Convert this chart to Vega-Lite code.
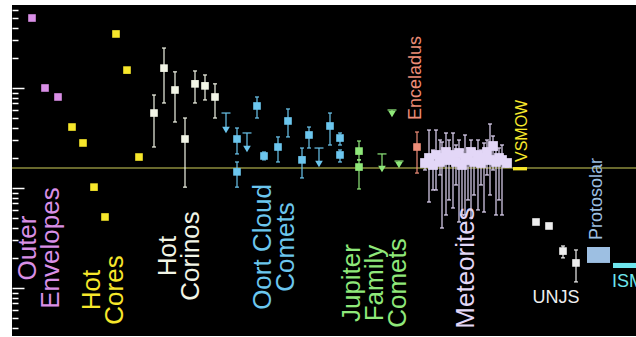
{
  "$schema": "https://vega.github.io/schema/vega-lite/v6.json",
  "width": 624,
  "height": 331,
  "autosize": {"type": "none"},
  "padding": {"left": 12, "top": 5, "right": 0, "bottom": 1},
  "background": "white",
  "config": {"view": {"fill": "black", "stroke": null}, "font": "Liberation Sans"},
  "resolve": {"axis": {"y": "independent"}},
  "datasets": {
    "pts": [
      {"g": "Outer Envelopes", "kind": "val", "x": 32, "v": 5.01e-3},
      {"g": "Outer Envelopes", "kind": "val", "x": 45, "v": 1.0e-3},
      {"g": "Outer Envelopes", "kind": "val", "x": 58, "v": 8.13e-4},
      {"g": "Hot Cores", "kind": "val", "x": 116, "v": 3.47e-3},
      {"g": "Hot Cores", "kind": "val", "x": 127, "v": 1.51e-3},
      {"g": "Hot Cores", "kind": "val", "x": 72, "v": 4.07e-4},
      {"g": "Hot Cores", "kind": "val", "x": 83, "v": 2.82e-4},
      {"g": "Hot Cores", "kind": "val", "x": 139, "v": 2.04e-4},
      {"g": "Hot Cores", "kind": "val", "x": 94, "v": 1.02e-4},
      {"g": "Hot Cores", "kind": "val", "x": 105, "v": 5.13e-5},
      {"g": "Hot Corinos", "kind": "val", "x": 154, "v": 5.62e-4, "lo": 2.57e-4, "hi": 8.51e-4},
      {"g": "Hot Corinos", "kind": "val", "x": 164, "v": 1.58e-3, "lo": 7.08e-4, "hi": 2.51e-3},
      {"g": "Hot Corinos", "kind": "val", "x": 175, "v": 9.55e-4, "lo": 4.57e-4, "hi": 1.45e-3},
      {"g": "Hot Corinos", "kind": "val", "x": 185, "v": 3.09e-4, "lo": 1.02e-4, "hi": 5.01e-4},
      {"g": "Hot Corinos", "kind": "val", "x": 195, "v": 1.10e-3, "lo": 7.08e-4, "hi": 1.48e-3},
      {"g": "Hot Corinos", "kind": "val", "x": 205, "v": 1.05e-3, "lo": 7.59e-4, "hi": 1.35e-3},
      {"g": "Hot Corinos", "kind": "val", "x": 215, "v": 8.13e-4, "lo": 5.01e-4, "hi": 1.10e-3},
      {"g": "Oort Cloud Comets", "kind": "lim", "x": 226, "v": 3.80e-4, "lo": 3.80e-4, "hi": 5.62e-4},
      {"g": "Oort Cloud Comets", "kind": "val", "x": 237, "v": 3.09e-4, "lo": 2.19e-4, "hi": 3.98e-4},
      {"g": "Oort Cloud Comets", "kind": "val", "x": 237, "v": 1.45e-4, "lo": 1.02e-4, "hi": 1.82e-4},
      {"g": "Oort Cloud Comets", "kind": "lim", "x": 247, "v": 2.45e-4, "lo": 2.45e-4, "hi": 3.55e-4},
      {"g": "Oort Cloud Comets", "kind": "val", "x": 257, "v": 6.61e-4, "lo": 5.01e-4, "hi": 8.13e-4},
      {"g": "Oort Cloud Comets", "kind": "val", "x": 264, "v": 2.09e-4, "lo": 1.91e-4, "hi": 2.29e-4},
      {"g": "Oort Cloud Comets", "kind": "val", "x": 278, "v": 2.57e-4, "lo": 1.82e-4, "hi": 3.24e-4},
      {"g": "Oort Cloud Comets", "kind": "val", "x": 288, "v": 4.68e-4, "lo": 3.24e-4, "hi": 6.17e-4},
      {"g": "Oort Cloud Comets", "kind": "val", "x": 302, "v": 1.91e-4, "lo": 1.26e-4, "hi": 2.51e-4},
      {"g": "Oort Cloud Comets", "kind": "val", "x": 309, "v": 3.39e-4, "lo": 2.51e-4, "hi": 4.07e-4},
      {"g": "Oort Cloud Comets", "kind": "lim", "x": 319, "v": 1.74e-4, "lo": 1.74e-4, "hi": 2.51e-4},
      {"g": "Oort Cloud Comets", "kind": "val", "x": 330, "v": 4.17e-4, "lo": 2.69e-4, "hi": 5.62e-4},
      {"g": "Oort Cloud Comets", "kind": "val", "x": 340, "v": 3.16e-4, "lo": 2.69e-4, "hi": 3.55e-4},
      {"g": "Oort Cloud Comets", "kind": "val", "x": 340, "v": 2.14e-4, "lo": 1.82e-4, "hi": 2.40e-4},
      {"g": "Jupiter Family Comets", "kind": "val", "x": 359, "v": 2.34e-4, "lo": 1.91e-4, "hi": 2.95e-4},
      {"g": "Jupiter Family Comets", "kind": "val", "x": 359, "v": 1.62e-4, "lo": 9.77e-5, "hi": 1.91e-4},
      {"g": "Jupiter Family Comets", "kind": "lim", "x": 382, "v": 1.55e-4, "lo": 1.55e-4, "hi": 2.19e-4},
      {"g": "Jupiter Family Comets", "kind": "lim", "x": 392, "v": 5.50e-4, "lo": 5.50e-4, "hi": 6.03e-4},
      {"g": "Jupiter Family Comets", "kind": "lim", "x": 399, "v": 1.70e-4, "lo": 1.70e-4, "hi": 1.86e-4},
      {"g": "Enceladus", "kind": "val", "x": 417, "v": 2.57e-4, "lo": 1.41e-4, "hi": 3.63e-4},
      {"g": "Meteorites", "kind": "val", "x": 425, "v": 1.778e-4, "lo": 1.514e-4, "hi": 1.905e-4},
      {"g": "Meteorites", "kind": "val", "x": 429, "v": 1.995e-4, "lo": 0.724e-4, "hi": 3.80e-4},
      {"g": "Meteorites", "kind": "val", "x": 433, "v": 1.698e-4, "lo": 0.955e-4, "hi": 2.399e-4},
      {"g": "Meteorites", "kind": "val", "x": 436, "v": 2.138e-4, "lo": 0.955e-4, "hi": 3.80e-4},
      {"g": "Meteorites", "kind": "val", "x": 440, "v": 1.820e-4, "lo": 1.349e-4, "hi": 3.02e-4},
      {"g": "Meteorites", "kind": "val", "x": 442, "v": 1.995e-4, "lo": 0.398e-4, "hi": 2.884e-4},
      {"g": "Meteorites", "kind": "val", "x": 446, "v": 2.291e-4, "lo": 0.537e-4, "hi": 3.548e-4},
      {"g": "Meteorites", "kind": "val", "x": 449, "v": 1.905e-4, "lo": 0.759e-4, "hi": 3.02e-4},
      {"g": "Meteorites", "kind": "val", "x": 453, "v": 2.138e-4, "lo": 0.631e-4, "hi": 3.548e-4},
      {"g": "Meteorites", "kind": "val", "x": 456, "v": 1.820e-4, "lo": 1.072e-4, "hi": 2.692e-4},
      {"g": "Meteorites", "kind": "val", "x": 459, "v": 2.239e-4, "lo": 0.457e-4, "hi": 3.02e-4},
      {"g": "Meteorites", "kind": "val", "x": 462, "v": 1.698e-4, "lo": 0.537e-4, "hi": 2.399e-4},
      {"g": "Meteorites", "kind": "val", "x": 465, "v": 1.995e-4, "lo": 0.537e-4, "hi": 3.388e-4},
      {"g": "Meteorites", "kind": "val", "x": 468, "v": 1.905e-4, "lo": 0.759e-4, "hi": 2.512e-4},
      {"g": "Meteorites", "kind": "val", "x": 471, "v": 2.291e-4, "lo": 0.501e-4, "hi": 3.02e-4},
      {"g": "Meteorites", "kind": "val", "x": 474, "v": 1.820e-4, "lo": 0.851e-4, "hi": 2.399e-4},
      {"g": "Meteorites", "kind": "val", "x": 478, "v": 2.138e-4, "lo": 0.603e-4, "hi": 3.02e-4},
      {"g": "Meteorites", "kind": "val", "x": 481, "v": 1.778e-4, "lo": 1.072e-4, "hi": 2.399e-4},
      {"g": "Meteorites", "kind": "val", "x": 484, "v": 1.995e-4, "lo": 0.575e-4, "hi": 2.818e-4},
      {"g": "Meteorites", "kind": "val", "x": 487, "v": 2.291e-4, "lo": 1.349e-4, "hi": 3.02e-4},
      {"g": "Meteorites", "kind": "val", "x": 490, "v": 1.905e-4, "lo": 0.851e-4, "hi": 4.365e-4},
      {"g": "Meteorites", "kind": "val", "x": 493, "v": 2.630e-4, "lo": 1.514e-4, "hi": 3.311e-4},
      {"g": "Meteorites", "kind": "val", "x": 496, "v": 1.820e-4, "lo": 0.537e-4, "hi": 2.399e-4},
      {"g": "Meteorites", "kind": "val", "x": 499, "v": 1.995e-4, "lo": 0.759e-4, "hi": 2.512e-4},
      {"g": "Meteorites", "kind": "val", "x": 502, "v": 1.905e-4, "lo": 0.537e-4, "hi": 2.692e-4},
      {"g": "Meteorites", "kind": "val", "x": 507, "v": 1.778e-4, "lo": 1.622e-4, "hi": 1.905e-4},
      {"g": "UNJS", "kind": "val", "x": 536, "v": 4.57e-5},
      {"g": "UNJS", "kind": "val", "x": 549, "v": 4.17e-5},
      {"g": "UNJS", "kind": "val", "x": 563, "v": 2.34e-5, "lo": 2.0e-5, "hi": 2.63e-5},
      {"g": "UNJS", "kind": "val", "x": 576, "v": 1.78e-5, "lo": 1.15e-5, "hi": 2.40e-5}
    ],
    "bands": [
      {"g": "VSMOW", "x": 513, "x2": 527, "lo": 1.50e-4, "hi": 1.62e-4},
      {"g": "Protosolar", "x": 587, "x2": 610, "lo": 1.78e-5, "hi": 2.57e-5},
      {"g": "ISM", "x": 613, "x2": 640, "lo": 1.585e-5, "hi": 1.78e-5}
    ],
    "labels": [
      {"g": "Outer Envelopes", "text": "Outer\nEnvelopes", "x": 28, "v": 2.51e-5},
      {"g": "Hot Cores", "text": "Hot\nCores", "x": 92, "v": 9.55e-6},
      {"g": "Hot Corinos", "text": "Hot\nCorinos", "x": 168, "v": 2.09e-5},
      {"g": "Oort Cloud Comets", "text": "Oort Cloud\nComets", "x": 263, "v": 2.57e-5},
      {"g": "Jupiter Family Comets", "text": "Jupiter\nFamily\nComets", "x": 352, "v": 1.12e-5},
      {"g": "Meteorites", "text": "Meteorites", "x": 466, "v": 1.585e-5},
      {"g": "Enceladus", "text": "Enceladus", "x": 416, "v": 1.26e-3},
      {"g": "VSMOW", "text": "VSMOW", "x": 522, "v": 3.72e-4},
      {"g": "Protosolar", "text": "Protosolar", "x": 597, "v": 7.76e-5},
      {"g": "UNJS", "text": "UNJS", "x": 556, "v": 7.94e-6},
      {"g": "ISM", "text": "ISM", "x": 612, "v": 1.148e-5}
    ],
    "ref": [{"v": 1.58e-4}]
  },
  "encoding": {
    "x": {"field": "x", "type": "quantitative", "scale": {"domain": [12, 636], "nice": false, "zero": false}, "axis": null},
    "color": {
      "field": "g", "type": "nominal", "legend": null,
      "scale": {
        "domain": ["Outer Envelopes", "Hot Cores", "Hot Corinos", "Oort Cloud Comets", "Jupiter Family Comets", "Enceladus", "Meteorites", "VSMOW", "UNJS", "Protosolar", "ISM"],
        "range": ["#d98fe6", "#f7e72b", "#f2f5e6", "#6cc6ee", "#8fe87a", "#ee8d78", "#e3d7f7", "#f7e72b", "#eeeeee", "#9dbfe2", "#6fe6ee"]
      }
    }
  },
  "layer": [
    {
      "data": {"name": "ref"},
      "mark": {"type": "rule", "color": "#8c8c3c", "strokeWidth": 1.5},
      "encoding": {
        "x": null,
        "color": null,
        "y": {
          "field": "v", "type": "quantitative",
          "scale": {"type": "log", "domain": [3.31e-6, 6.76e-3], "nice": false},
          "axis": {
            "orient": "left", "labels": false, "domain": false, "grid": false, "title": null, "offset": -12,
            "values": [1e-5, 1e-4, 1e-3],
            "tickColor": "white", "tickWidth": 1.5, "tickSize": 12
          }
        }
      }
    },
    {
      "data": {"name": "bands"},
      "mark": {"type": "rect", "clip": true},
      "encoding": {
        "x2": {"field": "x2"},
        "y": {
          "field": "lo", "type": "quantitative",
          "axis": {
            "orient": "left", "labels": false, "domain": false, "grid": false, "title": null, "offset": -6,
            "values": [4e-6, 5e-6, 6e-6, 7e-6, 8e-6, 9e-6, 2e-5, 3e-5, 4e-5, 5e-5, 6e-5, 7e-5, 8e-5, 9e-5, 2e-4, 3e-4, 4e-4, 5e-4, 6e-4, 7e-4, 8e-4, 9e-4, 2e-3, 3e-3, 4e-3, 5e-3, 6e-3],
            "tickColor": "white", "tickWidth": 1.5, "tickSize": 6
          }
        },
        "y2": {"field": "hi"}
      }
    },
    {
      "data": {"name": "pts"},
      "transform": [{"filter": "isValid(datum.lo)"}],
      "mark": {"type": "rule", "strokeWidth": 1.2},
      "encoding": {
        "y": {"field": "lo", "type": "quantitative", "axis": null},
        "y2": {"field": "hi"}
      }
    },
    {
      "data": {"name": "pts"},
      "transform": [{"filter": "isValid(datum.hi)"}],
      "mark": {"type": "tick", "orient": "horizontal", "thickness": 1.2, "opacity": 1},
      "encoding": {
        "y": {"field": "hi", "type": "quantitative", "axis": null},
        "size": {"condition": {"test": "datum.kind === 'lim'", "value": 9}, "value": 4}
      }
    },
    {
      "data": {"name": "pts"},
      "transform": [{"filter": "isValid(datum.lo) && datum.kind === 'val'"}],
      "mark": {"type": "tick", "orient": "horizontal", "thickness": 1.2, "size": 4, "opacity": 1},
      "encoding": {
        "y": {"field": "lo", "type": "quantitative", "axis": null}
      }
    },
    {
      "data": {"name": "pts"},
      "mark": {"type": "point", "filled": true, "opacity": 1},
      "encoding": {
        "y": {"field": "v", "type": "quantitative", "axis": null},
        "shape": {"field": "kind", "type": "nominal", "legend": null, "scale": {"domain": ["val", "lim"], "range": ["square", "triangle-down"]}},
        "size": {"condition": {"test": "datum.g === 'Meteorites'", "value": 95}, "value": 58}
      }
    },
    {
      "data": {"name": "labels"},
      "transform": [{"filter": "indexof(['Outer Envelopes','Hot Cores','Hot Corinos','Oort Cloud Comets','Jupiter Family Comets','Meteorites'], datum.g) >= 0"}],
      "mark": {"type": "text", "angle": 270, "fontSize": 26, "lineHeight": 23, "lineBreak": "\n", "align": "center", "baseline": "middle"},
      "encoding": {
        "y": {"field": "v", "type": "quantitative", "axis": null},
        "text": {"field": "text"}
      }
    },
    {
      "data": {"name": "labels"},
      "transform": [{"filter": "indexof(['Enceladus','Protosolar'], datum.g) >= 0"}],
      "mark": {"type": "text", "angle": 270, "fontSize": 18, "align": "center", "baseline": "middle"},
      "encoding": {
        "y": {"field": "v", "type": "quantitative", "axis": null},
        "text": {"field": "text"}
      }
    },
    {
      "data": {"name": "labels"},
      "transform": [{"filter": "datum.g === 'VSMOW'"}],
      "mark": {"type": "text", "angle": 270, "fontSize": 16, "align": "center", "baseline": "middle"},
      "encoding": {
        "y": {"field": "v", "type": "quantitative", "axis": null},
        "text": {"field": "text"}
      }
    },
    {
      "data": {"name": "labels"},
      "transform": [{"filter": "datum.g === 'UNJS'"}],
      "mark": {"type": "text", "fontSize": 18, "align": "center", "baseline": "middle"},
      "encoding": {
        "y": {"field": "v", "type": "quantitative", "axis": null},
        "text": {"field": "text"}
      }
    },
    {
      "data": {"name": "labels"},
      "transform": [{"filter": "datum.g === 'ISM'"}],
      "mark": {"type": "text", "fontSize": 18, "align": "left", "baseline": "middle"},
      "encoding": {
        "y": {"field": "v", "type": "quantitative", "axis": null},
        "text": {"field": "text"}
      }
    }
  ]
}
